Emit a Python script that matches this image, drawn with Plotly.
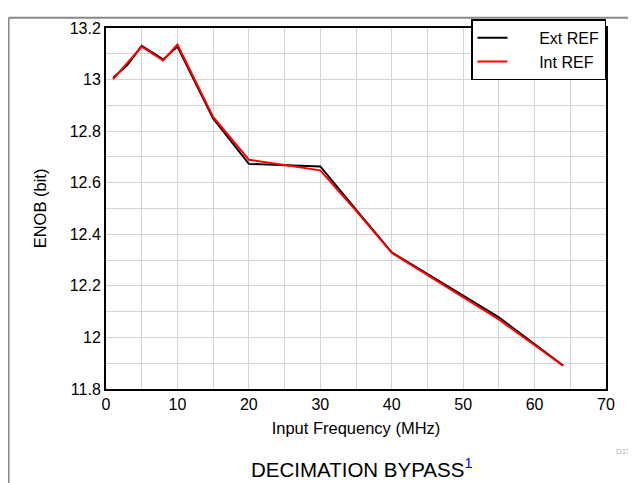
import plotly.graph_objects as go

ext_freq = [1, 3, 5, 8, 10, 15, 20, 30, 35, 40, 50, 55, 64]
ext_enob = [13.007, 13.057, 13.131, 13.078, 13.128, 12.849, 12.673, 12.663, 12.496, 12.330, 12.162, 12.078, 11.891]

int_freq = [1, 5, 8, 10, 15, 20, 30, 35, 40, 50, 55, 64]
int_enob = [13.002, 13.128, 13.074, 13.136, 12.855, 12.689, 12.648, 12.492, 12.328, 12.158, 12.070, 11.890]

# grid positions (every 5 MHz / 0.1 bit) with labels on every other one
x_ticks = [0, 5, 10, 15, 20, 25, 30, 35, 40, 45, 50, 55, 60, 65, 70]
x_labels = ["0", "", "10", "", "20", "", "30", "", "40", "", "50", "", "60", "", "70"]
y_ticks = [11.8, 11.9, 12.0, 12.1, 12.2, 12.3, 12.4, 12.5, 12.6, 12.7, 12.8, 12.9, 13.0, 13.1, 13.2]
y_labels = ["11.8", "", "12", "", "12.2", "", "12.4", "", "12.6", "", "12.8", "", "13", "", "13.2"]

fig = go.Figure()
fig.add_trace(go.Scatter(x=ext_freq, y=ext_enob, mode="lines",
                         name="\u00a0\u00a0\u00a0\u00a0\u00a0\u00a0Ext REF",
                         line=dict(color="black", width=2)))
fig.add_trace(go.Scatter(x=int_freq, y=int_enob, mode="lines",
                         name="\u00a0\u00a0\u00a0\u00a0\u00a0\u00a0Int REF",
                         line=dict(color="#ff0000", width=2)))

font = "Liberation Sans, Arial, sans-serif"
grid = "#d4d4d4"
fig.update_layout(
    width=628, height=475,
    margin=dict(l=98, r=30, t=11, b=94),
    paper_bgcolor="white", plot_bgcolor="white",
    font=dict(family=font, size=16, color="black"),
    showlegend=True,
    legend=dict(x=1, y=1.024, xanchor="right", yanchor="top",
                bgcolor="white", bordercolor="black", borderwidth=1.5,
                font=dict(size=16), tracegroupgap=0, itemwidth=30),
    xaxis=dict(range=[0, 70], tickmode="array", tickvals=x_ticks, ticktext=x_labels,
               ticks="", showgrid=True, gridcolor=grid, gridwidth=1.3,
               showline=True, linecolor="black", linewidth=2, mirror=True,
               zeroline=False,
               title=dict(text="Input Frequency (MHz)", standoff=10, font=dict(size=16.5))),
    yaxis=dict(range=[11.8, 13.2], tickmode="array", tickvals=y_ticks, ticktext=y_labels,
               ticks="", showgrid=True, gridcolor=grid, gridwidth=1.3,
               showline=True, linecolor="black", linewidth=2, mirror=True,
               zeroline=False,
               title=dict(text="ENOB (bit)", standoff=19, font=dict(size=16.5))),
)

# outer gray frame (left and top edges)
fig.add_shape(type="line", xref="paper", yref="paper", x0=-0.195, x1=-0.195,
              y0=-0.3, y1=1.0284, line=dict(color="#888888", width=2))
fig.add_shape(type="line", xref="paper", yref="paper", x0=-0.195, x1=1.1,
              y0=1.0284, y1=1.0284, line=dict(color="#888888", width=2))

fig.add_annotation(text="DECIMATION BYPASS<sup><span style='color:#0000ee'>1</span></sup>",
                   xref="paper", yref="paper", x=0.51, y=-0.219, xanchor="center",
                   yanchor="middle", showarrow=False, font=dict(size=20.5, family=font))
fig.add_annotation(text="D15", xref="paper", yref="paper", x=1.015, y=-0.173,
                   xanchor="left", yanchor="middle", showarrow=False,
                   font=dict(size=8, color="#b0b0b0", family=font))

fig.write_html("out.html")
